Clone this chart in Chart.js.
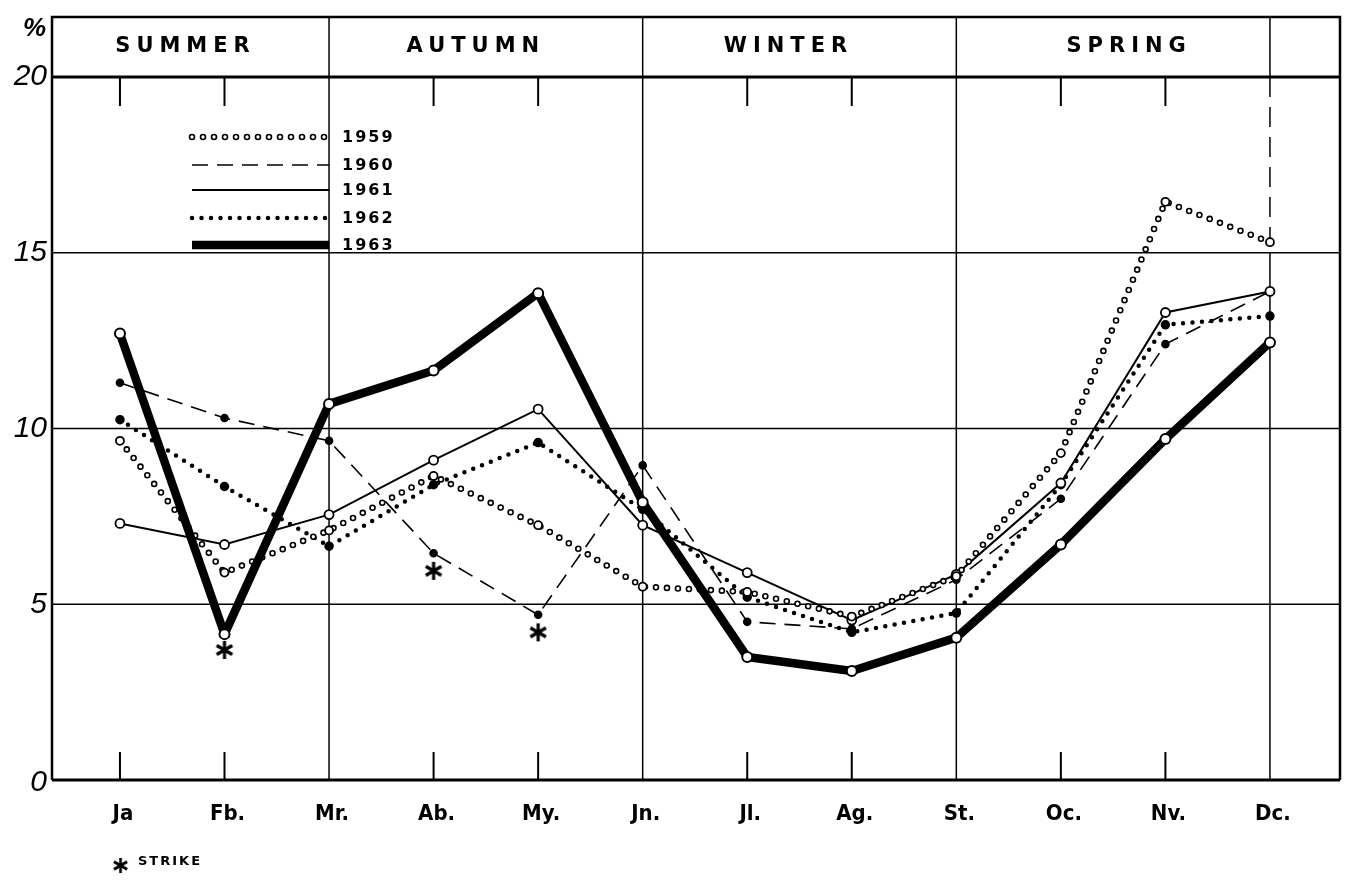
<!DOCTYPE html>
<html>
<head>
<meta charset="utf-8">
<script src="https://cdn.jsdelivr.net/npm/chart.js@4.4.1/dist/chart.umd.min.js"></script>
<style>
  html, body { margin: 0; padding: 0; background: #fff; }
  #wrap { width: 1350px; height: 880px; }
</style>
</head>
<body>
<div id="wrap"><canvas id="chart" width="1350" height="880"></canvas></div>
<script>
// month categories and season bands
const months = ['Ja', 'Fb.', 'Mr.', 'Ab.', 'My.', 'Jn.', 'Jl.', 'Ag.', 'St.', 'Oc.', 'Nv.', 'Dc.'];
const seasons = ['SUMMER', 'AUTUMN', 'WINTER', 'SPRING'];
const seasonEnds = [2, 5, 8, 11];
const yTicks = [0, 5, 10, 15, 20];
const years = ['1959', '1960', '1961', '1962', '1963'];

// monthly percentages
const v1959 = [9.65, 5.9, 7.1, 8.65, 7.25, 5.5, 5.35, 4.65, 5.8, 9.3, 16.45, 15.3];
const v1960 = [11.3, 10.3, 9.65, 6.45, 4.7, 8.95, 4.5, 4.3, 5.7, 8.0, 12.4, 13.9];
const v1961 = [7.3, 6.7, 7.55, 9.1, 10.55, 7.25, 5.9, 4.55, 5.85, 8.45, 13.3, 13.9];
const v1962 = [10.25, 8.35, 6.65, 8.4, 9.6, 7.7, 5.2, 4.2, 4.75, 8.4, 12.95, 13.2];
const v1963 = [12.7, 4.15, 10.7, 11.65, 13.85, 7.9, 3.5, 3.1, 4.05, 6.7, 9.7, 12.45];

// strike marks
const strikeMonths = [1, 3, 4];
const strikeValues = [3.7, 5.95, 4.2];

const pts = arr => arr.map((v, i) => ({ x: i, y: v }));

// six-armed asterisk used as point style
const star = document.createElement('canvas');
star.width = 20; star.height = 20;
(function () {
    const c = star.getContext('2d');
    c.strokeStyle = '#000';
    c.lineWidth = 3.2;
    c.lineCap = 'butt';
    for (let k = 0; k < 3; k++) {
        const ang = Math.PI / 2 + k * Math.PI / 3;
        c.beginPath();
        c.moveTo(10 - 9 * Math.cos(ang), 10 - 9 * Math.sin(ang));
        c.lineTo(10 + 9 * Math.cos(ang), 10 + 9 * Math.sin(ang));
        c.stroke();
    }
})();

const ctx = document.getElementById('chart').getContext('2d');

// grid, frame and season box
const framePlugin = {
    id: 'frame',
    beforeDatasetsDraw(chart) {
        const { ctx, chartArea: a, scales: { x, y } } = chart;
        const headTop = a.top - 60;
        ctx.save();
        ctx.strokeStyle = '#000';
        ctx.lineCap = 'butt';

        // horizontal lines
        ctx.lineWidth = 1.5;
        [5, 10, 15].forEach(v => {
            const py = y.getPixelForValue(v);
            ctx.beginPath(); ctx.moveTo(a.left, py); ctx.lineTo(a.right, py); ctx.stroke();
        });

        // season dividers (full height) and short month ticks
        months.forEach((m, i) => {
            const px = x.getPixelForValue(i);
            if (seasonEnds.includes(i)) {
                ctx.lineWidth = 1.5;
                ctx.beginPath();
                if (i === 11) {
                    // last divider is broken in its upper part
                    ctx.moveTo(px, headTop); ctx.lineTo(px, a.top);
                    ctx.moveTo(px, y.getPixelForValue(15)); ctx.lineTo(px, a.bottom);
                    ctx.stroke();
                    ctx.setLineDash([20, 10]);
                    ctx.beginPath();
                    ctx.moveTo(px, a.top); ctx.lineTo(px, y.getPixelForValue(15));
                    ctx.stroke();
                    ctx.setLineDash([]);
                    return;
                }
                ctx.moveTo(px, headTop); ctx.lineTo(px, a.bottom);
                ctx.stroke();
            } else {
                ctx.lineWidth = 2;
                ctx.beginPath();
                ctx.moveTo(px, a.top); ctx.lineTo(px, a.top + 29);
                ctx.moveTo(px, a.bottom - 28); ctx.lineTo(px, a.bottom);
                ctx.stroke();
            }
        });

        // outer frame
        ctx.lineWidth = 2.5;
        ctx.beginPath();
        ctx.moveTo(a.left, a.bottom); ctx.lineTo(a.left, headTop);
        ctx.lineTo(a.right, headTop); ctx.lineTo(a.right, a.bottom);
        ctx.stroke();
        ctx.lineWidth = 3;
        [0, 20].forEach(v => {
            const py = y.getPixelForValue(v);
            ctx.beginPath(); ctx.moveTo(a.left, py); ctx.lineTo(a.right, py); ctx.stroke();
        });
        ctx.restore();
    }
};

function legendStroke(ctx, ds, x1, x2, yy) {
    ctx.save();
    ctx.beginPath();
    ctx.moveTo(x1, yy); ctx.lineTo(x2, yy);
    ctx.strokeStyle = '#000';
    ctx.lineWidth = ds.borderWidth;
    ctx.lineCap = ds.borderCapStyle || 'butt';
    ctx.setLineDash(ds.borderDash || []);
    ctx.stroke();
    if (ds.ring) {
        ctx.strokeStyle = '#fff';
        ctx.lineWidth = 3.4;
        ctx.stroke();
    }
    ctx.restore();
}

// texts: seasons, tick labels, legend, strike note
const seasonShift = [-8, -13, -14, 13];
const textPlugin = {
    id: 'texts',
    afterDraw(chart) {
        const { ctx, chartArea: a, scales: { x, y } } = chart;
        ctx.save();
        ctx.fillStyle = '#000';

        // season names
        ctx.font = 'bold 21px "DejaVu Sans", sans-serif';
        ctx.letterSpacing = '6px';
        ctx.textAlign = 'center';
        ctx.textBaseline = 'middle';
        let prev = a.left;
        seasons.forEach((s, i) => {
            const end = x.getPixelForValue(seasonEnds[i]);
            ctx.fillText(s, (prev + end) / 2 + 3 + seasonShift[i], a.top - 30);
            prev = end;
        });
        ctx.letterSpacing = '0px';

        // y labels
        ctx.font = 'italic 30px "Liberation Sans", sans-serif';
        ctx.textAlign = 'right';
        yTicks.forEach(v => {
            ctx.fillText(String(v), a.left - 5, y.getPixelForValue(v) + (v === 0 ? 3 : 0));
        });
        ctx.font = 'italic bold 26px "Liberation Sans", sans-serif';
        ctx.fillText('%', a.left - 6, a.top - 48);

        // x labels
        ctx.font = 'bold 22px "Liberation Sans Narrow", "DejaVu Sans Condensed", sans-serif';
        ctx.textAlign = 'center';
        months.forEach((m, i) => {
            ctx.fillText(m, x.getPixelForValue(i) + 3, a.bottom + 34);
        });

        // series legend inside plot
        const rows = [137, 165, 190, 218, 245];
        const styled = chart.data.datasets.filter(d => d.legendRow !== undefined);
        styled.forEach(ds => {
            const yy = rows[ds.legendRow];
            legendStroke(ctx, ds, 192, x.getPixelForValue(2), yy);
            ctx.font = 'bold 16px "DejaVu Sans", sans-serif';
            ctx.textAlign = 'left';
            ctx.letterSpacing = '2px';
            ctx.fillText(ds.label, 342, yy + 1);
            ctx.letterSpacing = '0px';
        });

        // strike note
        ctx.drawImage(star, 112, 857, 17, 17);
        ctx.font = 'bold 13px "DejaVu Sans", sans-serif';
        ctx.textAlign = 'left';
        ctx.letterSpacing = '2px';
        ctx.fillText('STRIKE', 138, 862);
        ctx.restore();
    }
};

new Chart(ctx, {
    type: 'line',
    data: {
        datasets: [
            {
                label: 'strike',
                data: strikeMonths.map((m, i) => ({ x: m, y: strikeValues[i] })),
                showLine: false,
                pointStyle: star,
                pointRadius: 9,
                order: 0
            },
            {
                label: years[4],
                legendRow: 4,
                data: pts(v1963),
                borderColor: '#000',
                borderWidth: 8.5,
                borderJoinStyle: 'round',
                pointRadius: 5,
                pointBorderWidth: 2,
                pointBackgroundColor: '#fff',
                pointBorderColor: '#000',
                order: 1
            },
            {
                label: '',
                data: pts(v1959),
                borderColor: '#fff',
                borderWidth: 3.4,
                borderDash: [0, 11],
                borderCapStyle: 'round',
                pointRadius: 4,
                pointBorderWidth: 1.8,
                pointBackgroundColor: '#fff',
                pointBorderColor: '#000',
                order: 2
            },
            {
                label: years[0],
                legendRow: 0,
                ring: true,
                data: pts(v1959),
                borderColor: '#000',
                borderWidth: 6.6,
                borderDash: [0, 11],
                borderCapStyle: 'round',
                pointRadius: 0,
                order: 3
            },
            {
                label: years[2],
                legendRow: 2,
                data: pts(v1961),
                borderColor: '#000',
                borderWidth: 2,
                pointRadius: 4.5,
                pointBorderWidth: 1.8,
                pointBackgroundColor: '#fff',
                pointBorderColor: '#000',
                order: 4
            },
            {
                label: years[1],
                legendRow: 1,
                data: pts(v1960),
                borderColor: '#000',
                borderWidth: 1.6,
                borderDash: [16, 9],
                pointRadius: 3.5,
                pointBackgroundColor: '#000',
                pointBorderColor: '#000',
                order: 5
            },
            {
                label: years[3],
                legendRow: 3,
                data: pts(v1962),
                borderColor: '#000',
                borderWidth: 4.5,
                borderDash: [0, 9.5],
                borderCapStyle: 'round',
                pointRadius: 2.5,
                pointBackgroundColor: '#000',
                pointBorderColor: '#000',
                order: 6
            }
        ]
    },
    options: {
        responsive: false,
        devicePixelRatio: 1,
        animation: false,
        layout: { padding: { left: 52, right: 9, top: 77, bottom: 100 } },
        scales: {
            x: { type: 'linear', min: -0.65, max: 11.67, display: false },
            y: { min: 0, max: 20, display: false }
        },
        plugins: {
            legend: { display: false },
            tooltip: { enabled: false }
        },
        elements: { line: { tension: 0 } }
    },
    plugins: [framePlugin, textPlugin]
});
</script>
</body>
</html>
